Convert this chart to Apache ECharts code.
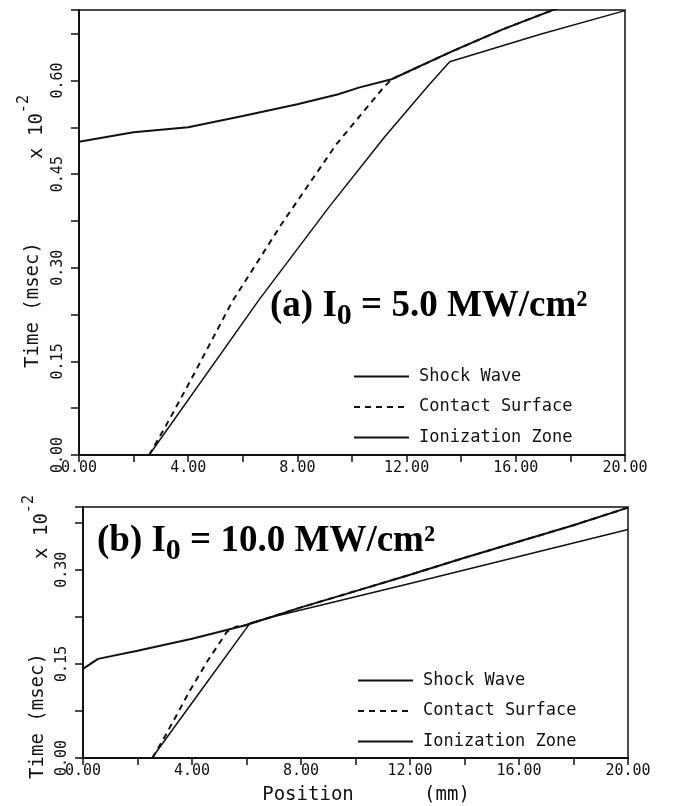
<!DOCTYPE html>
<html>
<head>
<meta charset="utf-8">
<script src="https://cdn.jsdelivr.net/npm/echarts@6/dist/echarts.min.js"></script>
<style>
  html, body { margin: 0; padding: 0; background: #fff; }
  #chart { width: 678px; height: 806px; }
</style>
</head>
<body>
<div id="chart"></div>
<script>
// position (mm) , time (msec x 10^-2)
const seriesNames = ['Shock Wave', 'Contact Surface', 'Ionization Zone'];

// (a) I0 = 5.0 MW/cm2
const shockA = [[0, 0.502], [2, 0.517], [4, 0.525], [6, 0.543], [8, 0.562], [9.5, 0.578],
  [10.28, 0.589], [11.45, 0.602], [13.58, 0.645], [15.52, 0.682], [17.6, 0.717]];
const contactA = [[2.57, 0], [3.3, 0.056], [4.29, 0.136], [5.6, 0.245], [7.45, 0.372],
  [9.43, 0.498], [11.1, 0.586], [11.45, 0.602], [13.58, 0.645], [15.52, 0.682], [17.6, 0.717]];
const ionizA = [[2.57, 0], [6.6, 0.249], [9.17, 0.398], [11.2, 0.51], [12.84, 0.594],
  [13.58, 0.63], [16.9, 0.674], [20, 0.712]];

// (b) I0 = 10.0 MW/cm2
const shockB = [[0, 0.142], [0.55, 0.158], [2, 0.171], [4, 0.19], [6, 0.212], [8, 0.24],
  [10, 0.266], [12, 0.292], [14, 0.319], [16, 0.345], [18, 0.371], [20, 0.399]];
const contactB = [[2.55, 0], [3.08, 0.04], [3.93, 0.108], [4.59, 0.156], [5.28, 0.201],
  [5.6, 0.209], [6, 0.212], [8, 0.24], [10, 0.266], [12, 0.292], [14, 0.319], [16, 0.345],
  [18, 0.371], [20, 0.399]];
const ionizB = [[2.53, 0], [4.37, 0.11], [6.13, 0.215], [7.05, 0.226], [9.06, 0.247],
  [12, 0.278], [16, 0.321], [20, 0.364]];

const yMaxA = 0.713;
const yMaxB = 0.40;

const mono = 'DejaVu Sans Mono';
const ink = '#111';
const chartDom = document.getElementById('chart');
const myChart = echarts.init(chartDom);

function makeXAxis(gridIndex) {
  return {
    type: 'value', gridIndex: gridIndex,
    min: 0, max: 20, interval: 2,
    axisLine: { lineStyle: { color: ink, width: 2 } },
    axisTick: { length: 7, lineStyle: { color: ink, width: 1.5 } },
    splitLine: { show: false },
    axisLabel: {
      margin: 6, color: ink, fontFamily: mono, fontSize: 15,
      formatter: v => (Math.round(v) % 4 === 0 ? v.toFixed(2) : '')
    }
  };
}

function makeYAxis(gridIndex, max) {
  return {
    type: 'value', gridIndex: gridIndex,
    min: 0, max: max, interval: 0.075,
    axisLine: { lineStyle: { color: ink, width: 2 } },
    axisTick: { length: 8, lineStyle: { color: ink, width: 1.5 } },
    splitLine: { show: false },
    axisLabel: {
      rotate: 90, margin: 13, color: ink, fontFamily: mono, fontSize: 15,
      formatter: v => {
        const k = Math.round(v / 0.075);
        if (Math.abs(k * 0.075 - v) > 1e-6 || k % 2 !== 0) return '';
        return v.toFixed(2);
      }
    }
  };
}

function makeLine(name, data, idx, width, dashed) {
  return {
    name: name, type: 'line', data: data,
    xAxisIndex: idx, yAxisIndex: idx,
    symbol: 'none', smooth: false, clip: true,
    itemStyle: { color: ink },
    lineStyle: { color: ink, width: width, type: dashed ? [6, 5] : 'solid' },
    z: dashed ? 3 : 2
  };
}

function makeLegend(left, top) {
  return {
    data: seriesNames, orient: 'vertical', left: left, top: top,
    itemWidth: 55, itemHeight: 14, itemGap: 13.5, selectedMode: false,
    itemStyle: { opacity: 0 },
    textStyle: { color: ink, fontFamily: mono, fontSize: 17, padding: [0, 0, 0, 5] }
  };
}

function titleText(x, y, label, val) {
  return {
    type: 'text', x: x, y: y, z: 10,
    style: {
      text: '{m|' + label + ' I}{s|0}{m| = ' + val + ' MW/cm²}',
      align: 'left', verticalAlign: 'top', fill: '#000',
      rich: {
        m: { fontFamily: 'Liberation Serif', fontWeight: 'bold', fontSize: 37, lineHeight: 50, fill: '#000' },
        s: { fontFamily: 'Liberation Serif', fontWeight: 'bold', fontSize: 30, lineHeight: 30, verticalAlign: 'bottom', fill: '#000' }
      }
    }
  };
}

function rotText(x, y, text, size) {
  return {
    type: 'text', x: x, y: y, rotation: Math.PI / 2,
    style: { text: text, fontFamily: mono, fontSize: size, fill: ink, align: 'center', verticalAlign: 'middle' }
  };
}

function expText(x, y) {
  return {
    type: 'text', x: x, y: y, rotation: Math.PI / 2,
    style: {
      text: '{a|x 10}{b|-2}', align: 'center', verticalAlign: 'middle', fill: ink,
      rich: {
        a: { fontFamily: mono, fontSize: 19, lineHeight: 30, verticalAlign: 'bottom', fill: ink },
        b: { fontFamily: mono, fontSize: 15, lineHeight: 15, verticalAlign: 'top', fill: ink }
      }
    }
  };
}

const option = {
  backgroundColor: '#fff',
  animation: false,
  grid: [
    { left: 79, right: 53, top: 10, height: 445, show: true, borderColor: ink, borderWidth: 1.5 },
    { left: 83, right: 50, top: 507, height: 251, show: true, borderColor: ink, borderWidth: 1.5 }
  ],
  xAxis: [makeXAxis(0), makeXAxis(1)],
  yAxis: [makeYAxis(0, yMaxA), makeYAxis(1, yMaxB)],
  legend: [makeLegend(348, 363), makeLegend(352, 667)],
  series: [
    makeLine(seriesNames[0], shockA, 0, 2, false),
    makeLine(seriesNames[1], contactA, 0, 2, true),
    makeLine(seriesNames[2], ionizA, 0, 1.5, false),
    makeLine(seriesNames[0], shockB, 1, 2, false),
    makeLine(seriesNames[1], contactB, 1, 2, true),
    makeLine(seriesNames[2], ionizB, 1, 1.5, false)
  ],
  graphic: [
    titleText(270, 281, '(a)', '5.0'),
    titleText(97, 516, '(b)', '10.0'),
    rotText(33, 305, 'Time (msec)', 19),
    expText(32, 127),
    rotText(38, 716, 'Time (msec)', 19),
    expText(37, 527),
    { type: 'text', x: 308, y: 795, style: { text: 'Position', fontFamily: mono, fontSize: 19, fill: ink, align: 'center', verticalAlign: 'middle' } },
    { type: 'text', x: 447, y: 795, style: { text: '(mm)', fontFamily: mono, fontSize: 19, fill: ink, align: 'center', verticalAlign: 'middle' } }
  ]
};

myChart.setOption(option);
</script>
</body>
</html>
